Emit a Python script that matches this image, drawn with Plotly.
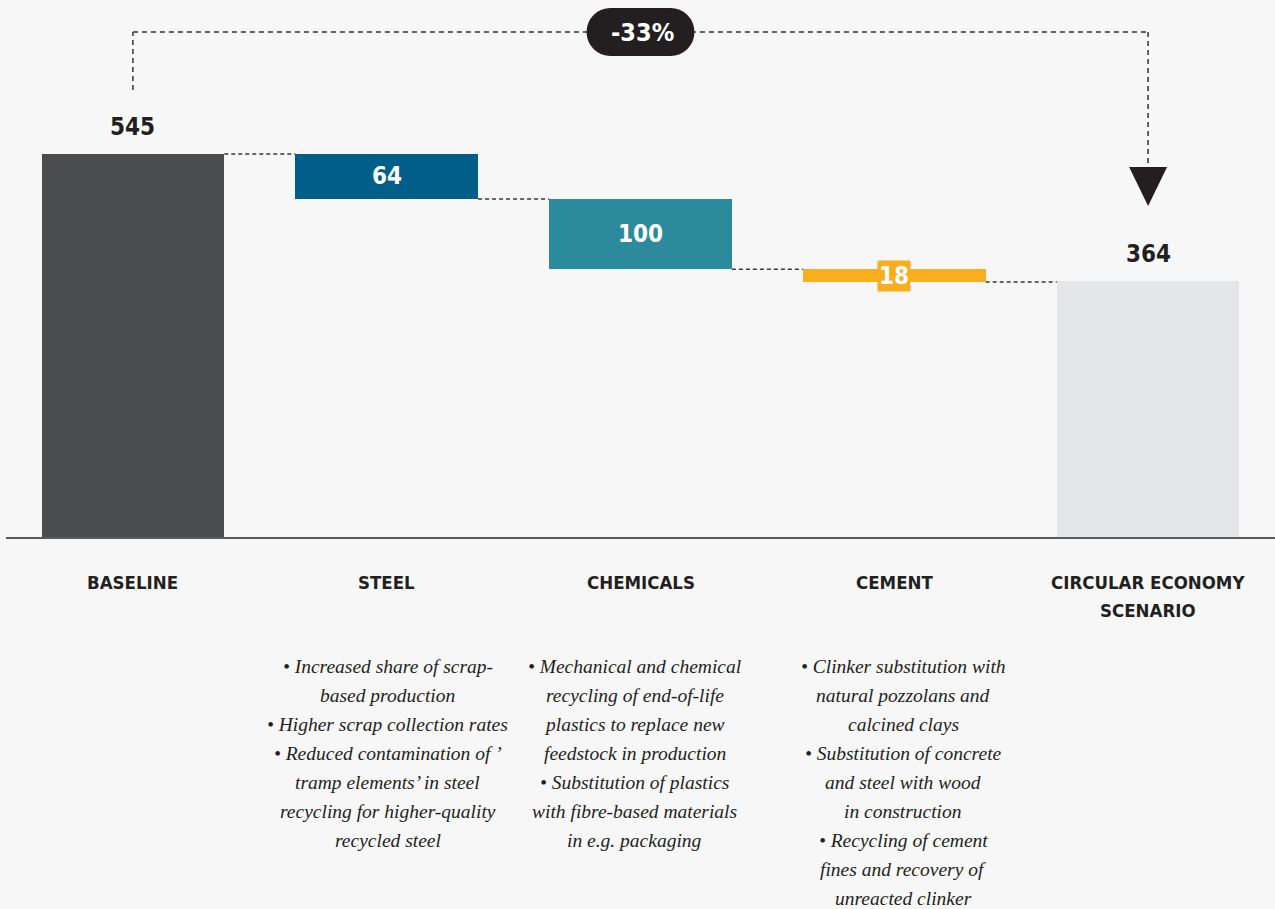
import plotly.graph_objects as go

# ---------------- data ----------------
categories = ["BASELINE", "STEEL", "CHEMICALS", "CEMENT", "CIRCULAR ECONOMY<br>SCENARIO"]
values = [545, 64, 100, 18, 364]
kinds = ["total", "drop", "drop", "drop", "total"]
colors = ["#4a4b4d", "#005e89", "#2b8b9c", "#f9ae1d", "#e5e6e8"]

steel_notes = ["• Increased share of scrap-", "based production", "• Higher scrap collection rates",
               "• Reduced contamination of ’", "tramp elements’ in steel",
               "recycling for higher-quality", "recycled steel"]
chem_notes = ["• Mechanical and chemical", "recycling of end-of-life", "plastics to replace new",
              "feedstock in production", "• Substitution of plastics",
              "with fibre-based materials", "in e.g. packaging"]
cement_notes = ["• Clinker substitution with", "natural pozzolans and", "calcined clays",
                "• Substitution of concrete", "and steel with wood", "in construction",
                "• Recycling of cement", "fines and recovery of", "unreacted clinker"]
notes = [[], steel_notes, chem_notes, cement_notes, []]
note_shift = [0, 1, -6, 9, 0]

# ---------------- geometry / style ----------------
W, H = 1275, 909
AXIS_PX = 537          # pixel row of the x axis
PX_PER_UNIT = 0.7028
Y_MAX = AXIS_PX / PX_PER_UNIT
BAR_W = 0.72
PX_PER_CAT = 254

COND = "Liberation Sans Narrow, Arial Narrow, DejaVu Sans Condensed, sans-serif"
SERIF = "Liberation Serif, DejaVu Serif, serif"
DARK = "#231f20"
BG = "#f7f7f7"


def py2y(py):
    return (AXIS_PX - py) / PX_PER_UNIT


# waterfall bases
bases, tops = [], []
level = 0
for v, k in zip(values, kinds):
    if k == "total":
        bases.append(0)
        level = v
        tops.append(v)
    else:
        bases.append(level - v)
        tops.append(level)
        level = level - v

x = list(range(len(categories)))

fig = go.Figure()
fig.add_trace(go.Bar(
    x=x, y=values, base=bases, width=BAR_W,
    marker=dict(color=colors, line=dict(width=0)),
    hoverinfo="skip", showlegend=False,
))

shapes = []
annotations = []

# dashed connectors between bars
for i in range(len(x) - 1):
    yl = bases[i] if kinds[i] == "drop" else tops[i]
    shapes.append(dict(type="line", xref="x", yref="y",
                       x0=x[i] + BAR_W / 2, x1=x[i + 1] - BAR_W / 2, y0=yl, y1=yl,
                       line=dict(color="#3a3a3a", width=1.5, dash="4px,3px"), layer="below"))

# value labels
for i, (v, k) in enumerate(zip(values, kinds)):
    if k == "total":
        annotations.append(dict(x=x[i], y=tops[i], xref="x", yref="y", text=f"<b>{v}</b>",
                                showarrow=False, yanchor="middle", yshift=27,
                                font=dict(family=COND, size=24, color=DARK)))
    elif v >= 40:
        annotations.append(dict(x=x[i], y=bases[i] + v / 2, xref="x", yref="y", text=f"<b>{v}</b>",
                                showarrow=False, yanchor="middle",
                                font=dict(family=COND, size=24, color="white")))
    else:
        annotations.append(dict(x=x[i], y=bases[i] + v / 2, xref="x", yref="y", text=f"<b>{v}</b>",
                                showarrow=False, yanchor="middle", bgcolor=colors[i], borderpad=1,
                                font=dict(family=COND, size=24, color="white")))

# category headings (one annotation per line for 28px line spacing)
for i, c in enumerate(categories):
    for j, part in enumerate(c.split("<br>")):
        py = 582 + 28 * j
        annotations.append(dict(x=x[i], y=0, xref="x", yref="y", text=f"<b>{part}</b>",
                                showarrow=False, yanchor="middle", yshift=-(py - AXIS_PX),
                                font=dict(family=COND, size=18.5, color=DARK)))

# bullet notes
for i, lines in enumerate(notes):
    for j, line in enumerate(lines):
        py = 666 + 29 * j
        annotations.append(dict(x=x[i], y=0, xref="x", yref="y", text=f"<i>{line}</i>",
                                showarrow=False, yanchor="middle", xshift=note_shift[i],
                                yshift=-(py - AXIS_PX),
                                font=dict(family=SERIF, size=19.5, color=DARK)))

# bracket from baseline to scenario
start_y = py2y(90)
top_y = py2y(32)
arrow_top = py2y(167)
arrow_tip = py2y(206)
dline = dict(color="#333333", width=1.5, dash="5px,4px")
shapes += [
    dict(type="line", xref="x", yref="y", x0=x[0], x1=x[0], y0=start_y, y1=top_y, line=dline),
    dict(type="line", xref="x", yref="y", x0=x[0], x1=x[-1], y0=top_y, y1=top_y, line=dline),
    dict(type="line", xref="x", yref="y", x0=x[-1], x1=x[-1], y0=top_y, y1=arrow_top + 2, line=dline),
]
hw = 19 / PX_PER_CAT
shapes.append(dict(type="path", xref="x", yref="y",
                   path=f"M {x[-1]-hw},{arrow_top} L {x[-1]+hw},{arrow_top} L {x[-1]},{arrow_tip} Z",
                   fillcolor=DARK, line=dict(width=0)))

# pill with percentage change
pc = (x[0] + x[-1]) / 2
rx = 30 / PX_PER_CAT
r_x = 24 / PX_PER_CAT
r_y = 24 / PX_PER_UNIT
shapes.append(dict(type="rect", xref="x", yref="y", x0=pc - rx, x1=pc + rx,
                   y0=top_y - r_y, y1=top_y + r_y, fillcolor=DARK, line=dict(width=0)))
for cx in (pc - rx, pc + rx):
    shapes.append(dict(type="circle", xref="x", yref="y", x0=cx - r_x, x1=cx + r_x,
                       y0=top_y - r_y, y1=top_y + r_y, fillcolor=DARK, line=dict(width=0)))
pct = round((values[-1] - values[0]) / values[0] * 100)
annotations.append(dict(x=pc, y=top_y, xref="x", yref="y", text=f"<b>{pct}%</b>",
                        showarrow=False, yanchor="middle", xshift=2,
                        font=dict(family=COND, size=25, color="white")))

fig.update_layout(
    width=W, height=H,
    margin=dict(l=6, r=0, t=0, b=H - AXIS_PX),
    paper_bgcolor=BG, plot_bgcolor=BG,
    xaxis=dict(range=[-0.5, len(x) - 0.5], showticklabels=False, showgrid=False, zeroline=False,
               showline=True, linecolor="#5a5a5a", linewidth=2, ticks=""),
    yaxis=dict(range=[0, Y_MAX], visible=False, showgrid=False, zeroline=False),
    shapes=shapes, annotations=annotations, bargap=0,
)

fig.write_html(
    "out.html",
    config={"displayModeBar": False},
    post_script="document.body.style.margin='0';document.body.style.background='#f7f7f7';",
)
